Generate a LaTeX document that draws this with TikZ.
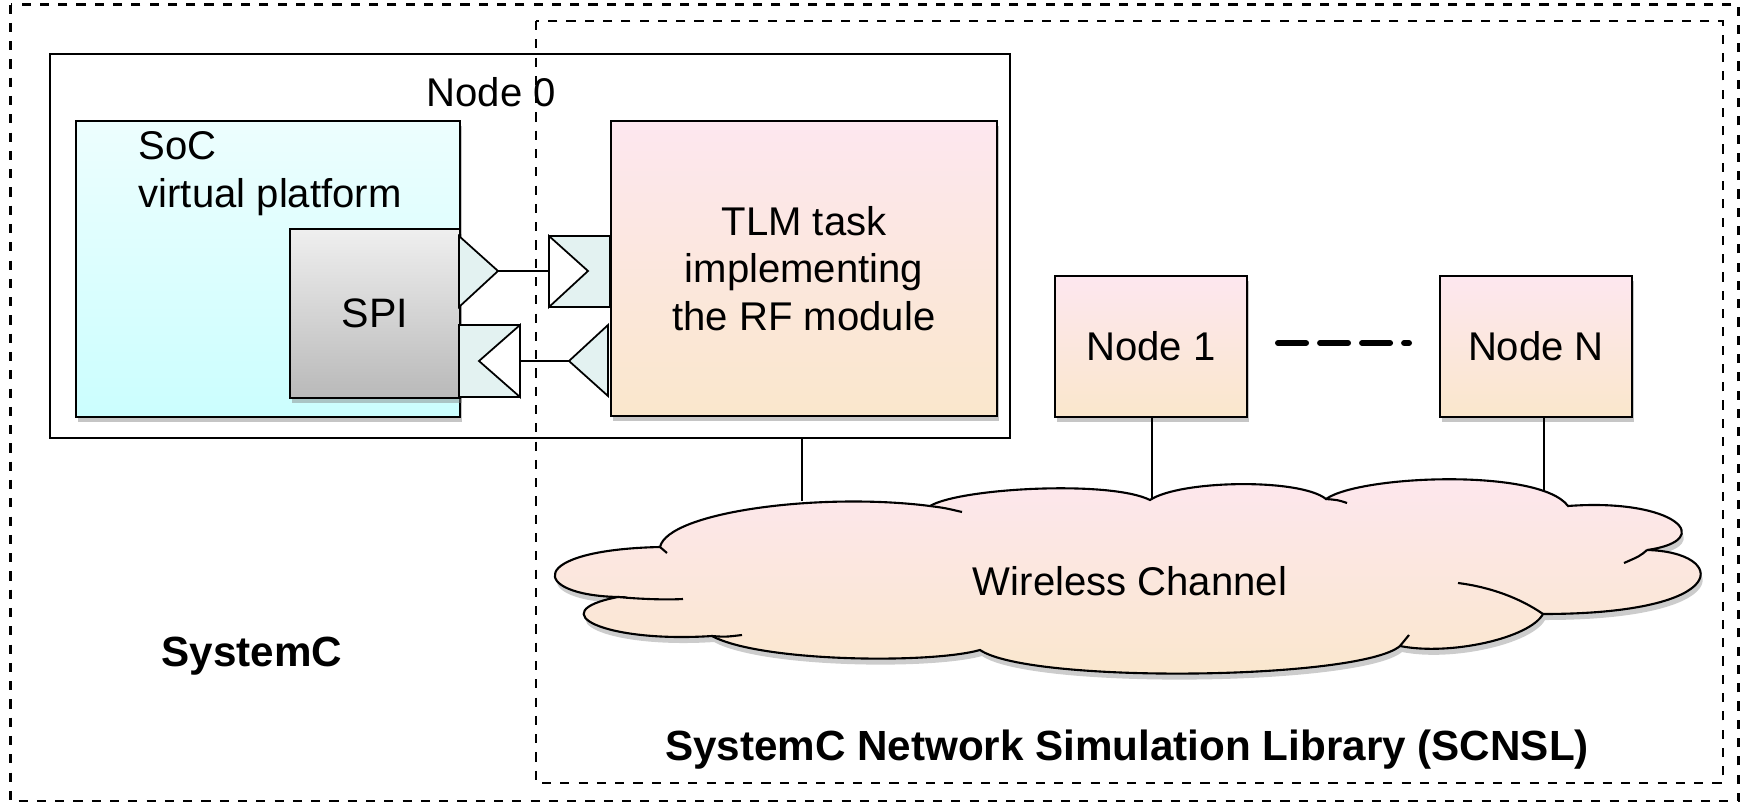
\documentclass[tikz,border=0pt]{standalone}
\usepackage{fontspec}
\setmainfont{Liberation Sans}
\usetikzlibrary{shadows}
\definecolor{pinktop}{HTML}{FDE7EF}
\definecolor{peachbot}{HTML}{FAE7CC}
\definecolor{cyantop}{HTML}{EDFEFE}
\definecolor{cyanbot}{HTML}{CBFEFE}
\definecolor{graytop}{HTML}{EFEFEF}
\definecolor{graybot}{HTML}{B9B9B9}
\definecolor{portfill}{HTML}{E3F2F1}
\tikzset{
  txt/.style={font=\fontsize{11.4}{13.5}\selectfont, inner sep=0pt},
  boldtxt/.style={font=\fontsize{12}{14}\selectfont\bfseries, inner sep=0pt},
  frame/.style={draw=black, line width=0.6pt, dash pattern=on 2.6pt off 2.6pt},
  boxshadow/.style={drop shadow={shadow xshift=0.02cm, shadow yshift=-0.05cm, opacity=0.45}},
  warmbox/.style={draw=black, line width=0.6pt, top color=pinktop, bottom color=peachbot, boxshadow, txt, align=center},
  port/.style={draw=black, line width=0.5pt, fill=portfill, line join=miter},
  wire/.style={draw=black, line width=0.4pt},
}
\begin{document}
\begin{tikzpicture}[x=0.01cm,y=-0.01cm]
\useasboundingbox (0,0) rectangle (1745,803);

% Node 0 container
\node[draw, line width=0.6pt, fill=white, minimum width=9.6cm, minimum height=3.84cm, inner sep=0pt] (node0) at (530,246) {};
\node[txt, anchor=base west] (node0lbl) at (426,106) {Node 0};

% SoC virtual platform
\node[draw, line width=0.6pt, top color=cyantop, bottom color=cyanbot, boxshadow, minimum width=3.84cm, minimum height=2.96cm, inner sep=0pt] (soc) at (268,269) {};
\node[txt, anchor=north west, align=left] (soclbl) at (138,131) {SoC\\virtual platform};

% SPI
\node[draw, line width=0.6pt, top color=graytop, bottom color=graybot, boxshadow, minimum width=1.7cm, minimum height=1.69cm, inner sep=0pt, font=\fontsize{11.7}{14}\selectfont, text depth=-0.03cm] (spi) at (375,313.5) {SPI};

% TLM task
\node[warmbox, minimum width=3.86cm, minimum height=2.95cm] (tlm) at (804,268.5) {TLM task\\implementing\\the RF module};

% Node 1 and Node N
\node[warmbox, minimum width=1.92cm, minimum height=1.41cm] (n1) at (1151,346.5) {Node 1};
\node[warmbox, minimum width=1.92cm, minimum height=1.41cm] (nN) at (1536,346.5) {Node N};

% ports
\draw[port] (459,236) -- (498,271) -- (459,307) -- cycle;
\draw[port] (549,236) rectangle (610,307);
\draw[port, fill=white] (549,236) -- (588,271) -- (549,307) -- cycle;
\draw[port] (459,325) rectangle (520,397);
\draw[port, fill=white] (520,325) -- (479,361) -- (520,397) -- cycle;
\draw[port] (608,325) -- (569,361) -- (608,396) -- cycle;
\coordinate (p1) at (498,271);
\coordinate (p2) at (549,271);
\coordinate (p3) at (520,361);
\coordinate (p4) at (569,361);
\draw[wire] (p1) -- (p2);
\draw[wire] (p4) -- (p3);

% cloud
\path[draw=black, line width=0.6pt, top color=pinktop, bottom color=peachbot, line join=miter,
      drop shadow={shadow xshift=0.02cm, shadow yshift=-0.06cm, opacity=0.4}]
 (660,547) .. controls (668,512) and (820,492) .. (930,506)
 .. controls (960,488) and (1110,480) .. (1150,500)
 .. controls (1180,480) and (1300,478) .. (1326,499)
 .. controls (1360,475) and (1540,468) .. (1568,506)
 .. controls (1675,498) and (1718,540) .. (1647,550)
 .. controls (1728,552) and (1735,614) .. (1543,614)
 .. controls (1530,638) and (1450,656) .. (1400,646)
 .. controls (1360,680) and (1030,684) .. (980,650)
 .. controls (930,664) and (760,662) .. (712,636)
 .. controls (605,643) and (540,612) .. (618,597)
 .. controls (530,595) and (525,550) .. (660,547) -- cycle;
% cloud inner hooks
\draw[line width=0.6pt] (618,597) .. controls (640,599) and (665,600) .. (683,599);
\draw[line width=0.6pt] (930,506) .. controls (945,508) .. (962,512);
\draw[line width=0.6pt] (1543,614) .. controls (1520,598) and (1490,587) .. (1458,583);
\draw[line width=0.6pt] (1647,550) .. controls (1640,556) .. (1624,563);
\draw[line width=0.6pt] (1400,646) .. controls (1404,641) .. (1409,635);
\draw[line width=0.6pt] (1326,499) .. controls (1338,500) .. (1347,503);
\draw[line width=0.6pt] (660,547) -- (667,553);
\draw[line width=0.6pt] (712,636) .. controls (725,637) .. (742,635);
\node[txt] (wc) at (1130,581) {Wireless Channel};

% connectors to the channel
\coordinate (c0) at (802,501);
\coordinate (c1) at (1152,499);
\coordinate (cN) at (1544,492);
\draw[wire] (c0 |- node0.south) -- (c0);
\draw[wire] (c1 |- n1.south) -- (c1);
\draw[wire] (cN |- nN.south) -- (cN);

% dashes between Node 1 and Node N
\coordinate (d1) at (1278,343);
\coordinate (d2) at (1409,343);
\draw[line width=1.7pt, dash pattern=on 0.28cm off 0.14cm, line cap=round] (d1) -- (d2);

% labels
\node[boldtxt, anchor=base] (sc) at (252,666) {SystemC};
\node[boldtxt, anchor=base] (scnsl) at (1127,760) {SystemC Network Simulation Library (SCNSL)};

% dashed regions
\draw[frame] (10.5,4.5) rectangle (1738.5,801);
\draw[frame] (536,21) rectangle (1723,783);
\end{tikzpicture}
\end{document}
